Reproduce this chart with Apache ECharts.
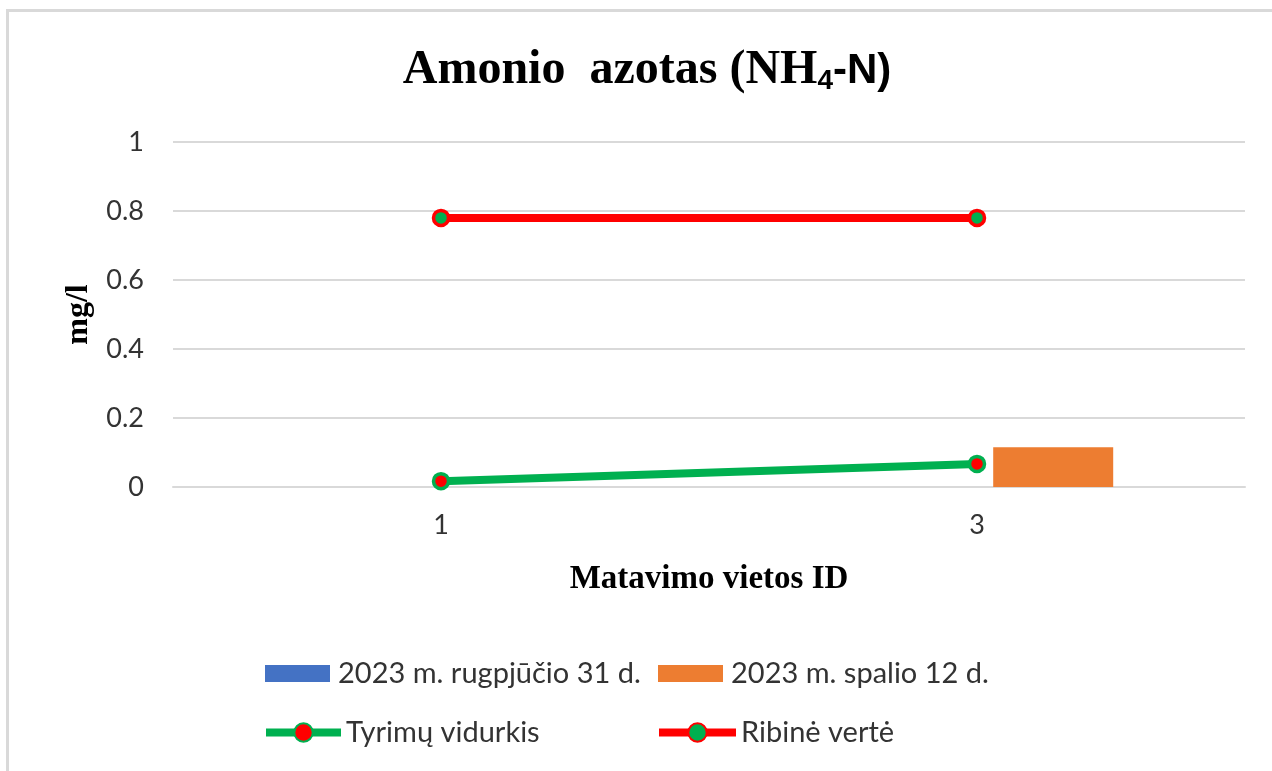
<!DOCTYPE html>
<html>
<head>
<meta charset="utf-8">
<script src="https://cdn.jsdelivr.net/npm/echarts@6/dist/echarts.min.js"></script>
<style>
html, body { margin: 0; padding: 0; background: #fff; }
#chart { width: 1272px; height: 771px; }
</style>
</head>
<body>
<div id="chart"></div>
<script>
var categories = ['1', '3'];
var augustValues = [null, null];
var octoberValues = [null, 0.115];
var averageValues = [0.017, 0.067];
var limitValues = [0.78, 0.78];

var names = ['2023 m. rugpjūčio 31 d.', '2023 m. spalio 12 d.', 'Tyrimų vidurkis', 'Ribinė vertė'];

var sansFont = 'Lato';
var serifFont = 'Liberation Serif';
var gridGray = '#d9d9d9';
var labelColor = '#333';

var chart = echarts.init(document.getElementById('chart'));

// one legend per item so the columns line up like in the original
function oneLegend(name, left, top, w, h, isBar) {
    var lg = {
        data: [name],
        left: left,
        top: top,
        padding: 0,
        itemWidth: w,
        itemHeight: h,
        itemGap: 0,
        selectedMode: false,
        textStyle: { fontFamily: sansFont, fontSize: 29, color: labelColor, padding: [0, 0, 0, isBar ? 3 : 0] }
    };
    if (isBar) {
        lg.icon = 'rect';
    } else {
        lg.lineStyle = { width: 8 };
    }
    return lg;
}

var option = {
    animation: false,
    backgroundColor: '#fff',
    title: {
        text: '{a|Amonio  azotas (NH}{b|4}{c|-N)}',
        left: 642,
        textAlign: 'center',
        top: 42,
        textStyle: {
            rich: {
                a: { fontFamily: serifFont, fontWeight: 'bold', fontSize: 48, color: '#000' },
                b: { fontFamily: 'Liberation Sans', fontWeight: 'bold', fontSize: 28, color: '#000', verticalAlign: 'bottom', padding: [17, 0, 0, 0] },
                c: { fontFamily: 'Liberation Sans', fontWeight: 'bold', fontSize: 42, color: '#000' }
            }
        }
    },
    legend: [
        oneLegend(names[0], 265, 659, 65, 17, true),
        oneLegend(names[1], 658, 659, 65, 17, true),
        oneLegend(names[2], 262, 718, 75, 23, false),
        oneLegend(names[3], 655, 718, 77, 23, false)
    ],
    grid: { left: 173, right: 27, top: 142, bottom: 284, containLabel: false },
    xAxis: {
        type: 'category',
        data: categories,
        axisTick: { show: false },
        axisLine: { lineStyle: { color: gridGray, width: 2 } },
        axisLabel: { fontFamily: sansFont, fontSize: 27, color: labelColor, margin: 25 },
        name: 'Matavimo vietos ID',
        nameLocation: 'middle',
        nameGap: 76,
        nameTextStyle: { fontFamily: serifFont, fontWeight: 'bold', fontSize: 33, color: '#000' }
    },
    yAxis: {
        type: 'value',
        min: 0,
        max: 1,
        interval: 0.2,
        axisLine: { show: false },
        axisTick: { show: false },
        splitLine: { lineStyle: { color: gridGray, width: 2 } },
        axisLabel: { fontFamily: sansFont, fontSize: 27, color: labelColor, margin: 29 },
        name: 'mg/l',
        nameLocation: 'middle',
        nameGap: 78,
        nameTextStyle: { fontFamily: serifFont, fontWeight: 'bold', fontSize: 32, color: '#000' }
    },
    graphic: [
        { type: 'line', shape: { x1: 6, y1: 10.5, x2: 1272, y2: 10.5 }, style: { stroke: gridGray, lineWidth: 3 } },
        { type: 'line', shape: { x1: 7.5, y1: 9, x2: 7.5, y2: 771 }, style: { stroke: gridGray, lineWidth: 3 } }
    ],
    series: [
        {
            name: names[0],
            type: 'bar',
            data: augustValues,
            barWidth: 120,
            barGap: '27%',
            itemStyle: { color: '#4472c4' }
        },
        {
            name: names[1],
            type: 'bar',
            data: octoberValues,
            barWidth: 120,
            barGap: '27%',
            itemStyle: { color: '#ed7d31' }
        },
        {
            name: names[2],
            type: 'line',
            data: averageValues,
            symbol: 'circle',
            symbolSize: 15,
            lineStyle: { color: '#00b050', width: 8 },
            itemStyle: { color: '#ff0000', borderColor: '#00b050', borderWidth: 3.5 },
            z: 5
        },
        {
            name: names[3],
            type: 'line',
            data: limitValues,
            symbol: 'circle',
            symbolSize: 15,
            lineStyle: { color: '#ff0000', width: 8 },
            itemStyle: { color: '#00b050', borderColor: '#ff0000', borderWidth: 3.5 },
            z: 5
        }
    ]
};

chart.setOption(option);
window.addEventListener('resize', chart.resize);
</script>
</body>
</html>
